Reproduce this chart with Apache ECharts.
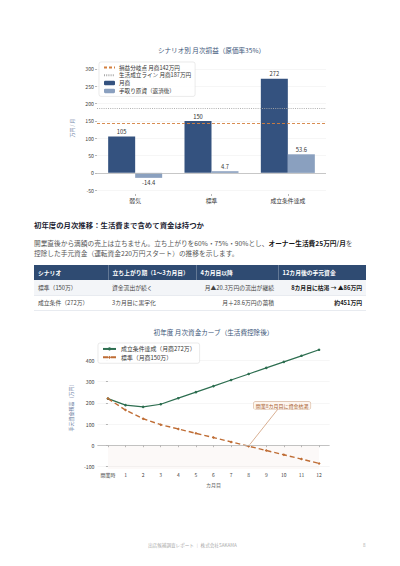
<!DOCTYPE html>
<html lang="ja">
<head>
<meta charset="UTF-8">
<meta name="viewport" content="width=device-width, initial-scale=1.0">
<title>初年度の月次推移</title>
<script src="https://cdn.jsdelivr.net/npm/echarts@6/dist/echarts.min.js"></script>
<style>
    html, body { margin: 0; padding: 0; background: #fff; }
    body { width: 400px; height: 566px; position: relative; overflow: hidden;
           font-family: "Noto Sans CJK JP", "Noto Sans", sans-serif; color: #444; }
    #bar   { position: absolute; left: 60px; top: 36px;  width: 303px; height: 172px; }
    #curve { position: absolute; left: 60px; top: 318px; width: 307px; height: 174px; }
    h2 { position: absolute; left: 34px; top: 219px; margin: 0; font-size: 7.4px; line-height: 12px;
         font-weight: bold; color: #1d2433; }
    p.lead { position: absolute; left: 34px; top: 238px; width: 332px; margin: 0;
             font-size: 6.7px; line-height: 10px; color: #555; }
    p.lead b { color: #1a1a1a; }
    table { position: absolute; left: 34px; top: 265px; width: 332px; border-collapse: collapse;
            font-size: 5.8px; table-layout: fixed; }
    th { background: #2f4b72; color: #fff; text-align: left; font-weight: 600; height: 15px;
         padding: 0 4px; border-right: 1px solid rgba(255,255,255,0.25); }
    th:last-child { border-right: none; }
    td { height: 14.5px; padding: 0 4px; color: #444; border-bottom: 1px solid #e8ebf0; }
    tr.alt td { background: #f3f5f8; }
    td.r { text-align: right; }
    td b { color: #1a1a1a; }
    .foot { position: absolute; top: 542px; font-size: 4.6px; color: #aaa; }
</style>
</head>
<body>

<div id="bar"></div>

<h2>初年度の月次推移：生活費まで含めて資金は持つか</h2>
<p class="lead">開業直後から満額の売上は立ちません。立ち上がりを60%・75%・90%とし、<b>オーナー生活費25万円/月</b>を<br>控除した手元資金（運転資金220万円スタート）の推移を示します。</p>

<table>
    <colgroup><col style="width:74px"><col style="width:88px"><col style="width:82px"><col style="width:88px"></colgroup>
    <tr><th>シナリオ</th><th>立ち上がり期（1〜3カ月目）</th><th>4カ月目以降</th><th>12カ月後の手元資金</th></tr>
    <tr class="alt"><td>標準（150万）</td><td>資金流出が続く</td><td class="r">月▲20.3万円の流出が継続</td><td class="r"><b>8カ月目に枯渇 → ▲86万円</b></td></tr>
    <tr><td>成立条件（272万）</td><td>3カ月目に黒字化</td><td class="r">月＋28.6万円の蓄積</td><td class="r"><b>約451万円</b></td></tr>
</table>

<div id="curve"></div>

<div class="foot" style="left:148px">出店候補調査レポート ｜ 株式会社SAKAMA</div>
<div class="foot" style="left:363px">8</div>

<script>
    // シナリオ別 月次損益
    var scenarios = ['弱気', '標準', '成立条件達成'];
    var monthlySales = [105, 150, 272];
    var netCash = [-14.4, 4.7, 53.6];
    var breakEven = 142;
    var livingLine = 187;
    var barTicks = [-50, 0, 50, 100, 150, 200, 250, 300];

    // 初年度 月次資金カーブ
    var monthLabels = ['開業時', '1', '2', '3', '4', '5', '6', '7', '8', '9', '10', '11', '12'];
    var cashSuccess = [220, 189, 181, 193.4, 222, 250.6, 279.2, 307.8, 336.4, 365, 393.6, 422.2, 450.8];
    var cashStandard = [220, 166, 125, 96.7, 76.4, 56.1, 35.8, 15.5, -4.8, -25.1, -45.4, -65.7, -86];
    var curveTicks = [-100, 0, 100, 200, 300, 400];
    var dryMonth = 8;

    var FONT = '"Noto Sans CJK JP", sans-serif';
    var navy = '#34527f', slate = '#8aa0bf', orange = '#d4803f', green = '#2d6e50', brown = '#bf6d35';
    var noMarker = {color: 'transparent', borderColor: 'transparent', borderWidth: 0};

    var bar = echarts.init(document.getElementById('bar'), null, {renderer: 'svg'});
    bar.setOption({
        textStyle: {fontFamily: FONT},
        title: {
            text: 'シナリオ別 月次損益（原価率35%）', left: 'center', top: 6,
            textStyle: {fontSize: 6.6, fontWeight: 'normal', color: '#3b5578', fontFamily: FONT}
        },
        legend: {
            orient: 'vertical', left: 39, top: 26,
            data: [
                {name: '損益分岐点 月商142万円', itemStyle: noMarker},
                {name: '生活成立ライン 月商187万円', itemStyle: noMarker},
                '月商', '手取り原資（返済後）'
            ],
            itemWidth: 11, itemHeight: 4.5, itemGap: 1.8, padding: [2.5, 4],
            backgroundColor: 'rgba(255,255,255,0.9)', borderColor: '#dcdcdc', borderWidth: 0.6, borderRadius: 2,
            textStyle: {fontSize: 5.6, lineHeight: 6, color: '#333', padding: [0, 0, 0, -1]}
        },
        grid: {left: 37, right: 37, top: 26, height: 132},
        xAxis: {
            type: 'category', data: scenarios,
            axisLine: {show: false, onZero: false},
            axisTick: {show: true, alignWithLabel: true, length: 2, lineStyle: {color: '#888', width: 0.6}},
            axisLabel: {fontSize: 5.8, color: '#333', margin: 4}
        },
        yAxis: {
            type: 'value', min: -61, max: 320,
            name: '万円 / 月', nameLocation: 'middle', nameGap: 19,
            nameTextStyle: {fontSize: 5, color: '#6a7aa0'},
            axisLine: {show: false},
            axisTick: {show: true, length: 2, customValues: barTicks, lineStyle: {color: '#888', width: 0.6}},
            axisLabel: {fontSize: 5.2, color: '#444', margin: 3, customValues: barTicks},
            splitLine: {show: true, lineStyle: {color: '#f0f0f0', width: 0.6}}
        },
        series: [
            {
                name: '損益分岐点 月商142万円', type: 'line', data: [], symbol: 'none',
                lineStyle: {color: orange, type: [3, 2], width: 0.9}, itemStyle: {color: orange},
                markLine: {silent: true, symbol: 'none', label: {show: false},
                    lineStyle: {color: orange, type: [3, 2], width: 0.9}, data: [{yAxis: breakEven}]}
            },
            {
                name: '生活成立ライン 月商187万円', type: 'line', data: [], symbol: 'none',
                lineStyle: {color: '#a8a8a8', type: [1, 1.2], width: 0.9}, itemStyle: {color: '#a8a8a8'},
                markLine: {silent: true, symbol: 'none', label: {show: false},
                    lineStyle: {color: '#a8a8a8', type: [1, 1.2], width: 0.9}, data: [{yAxis: livingLine}]}
            },
            {
                name: '月商', type: 'bar', data: monthlySales, barWidth: 27, barGap: '0%',
                itemStyle: {color: navy},
                label: {show: true, position: 'top', fontSize: 5.8, color: '#333', distance: 2},
                markLine: {silent: true, symbol: 'none', label: {show: false},
                    lineStyle: {color: '#bbb', type: 'solid', width: 0.8}, data: [{yAxis: 0}]}
            },
            {
                name: '手取り原資（返済後）', type: 'bar', barWidth: 27,
                data: netCash.map(function (v) {
                    return {value: v, label: {position: v < 0 ? 'bottom' : 'top'}};
                }),
                itemStyle: {color: slate},
                label: {show: true, fontSize: 5.8, color: '#333', distance: 2}
            }
        ]
    });

    var curve = echarts.init(document.getElementById('curve'), null, {renderer: 'svg'});
    var monthIdx = monthLabels.map(function (m, i) { return i; });
    curve.setOption({
        textStyle: {fontFamily: FONT},
        title: {
            text: '初年度 月次資金カーブ（生活費控除後）', left: 'center', top: 6,
            textStyle: {fontSize: 6.6, fontWeight: 'normal', color: '#3b5578', fontFamily: FONT}
        },
        legend: {
            orient: 'vertical', left: 38, top: 25,
            itemWidth: 13, itemHeight: 4, itemGap: 2.5, padding: [3, 4],
            backgroundColor: 'rgba(255,255,255,0.9)', borderColor: '#dcdcdc', borderWidth: 0.6, borderRadius: 2,
            textStyle: {fontSize: 5.9, color: '#333'}
        },
        grid: {left: 37.4, right: 37.4, top: 26, height: 126},
        xAxis: {
            type: 'value', min: -0.6, max: 12.6,
            name: 'カ月目', nameLocation: 'middle', nameGap: 12,
            nameTextStyle: {fontSize: 5, color: '#666'},
            axisLine: {show: false},
            axisTick: {show: true, length: 2, customValues: monthIdx, lineStyle: {color: '#888', width: 0.6}},
            axisLabel: {fontSize: 5, color: '#444', margin: 3, customValues: monthIdx,
                formatter: function (v) { return monthLabels[v]; }},
            splitLine: {show: false}
        },
        yAxis: {
            type: 'value', min: -113, max: 478,
            name: '手元資金残高（万円）', nameLocation: 'middle', nameGap: 22,
            nameTextStyle: {fontSize: 5, color: '#6a7aa0'},
            axisLine: {show: false},
            axisTick: {show: true, length: 2, customValues: curveTicks, lineStyle: {color: '#888', width: 0.6}},
            axisLabel: {fontSize: 5.2, color: '#444', margin: 3, customValues: curveTicks},
            splitLine: {show: true, lineStyle: {color: '#f0f0f0', width: 0.6}}
        },
        series: [
            {
                name: '成立条件達成（月商272万）', type: 'line',
                data: cashSuccess.map(function (v, i) { return [i, v]; }),
                symbol: 'circle', symbolSize: 2.6,
                lineStyle: {color: green, width: 1.2}, itemStyle: {color: green},
                markArea: {silent: true, itemStyle: {color: 'rgba(214,170,150,0.07)'},
                    data: [[{xAxis: 0, yAxis: -113}, {xAxis: 12, yAxis: 0}]]},
                markLine: {silent: true, symbol: 'none', label: {show: false},
                    lineStyle: {color: '#b5b5b5', type: 'solid', width: 0.8}, data: [{yAxis: 0}]}
            },
            {
                name: '標準（月商150万）', type: 'line',
                data: cashStandard.map(function (v, i) { return [i, v]; }),
                symbol: 'diamond', symbolSize: 3,
                lineStyle: {color: brown, width: 1.4, type: [5, 3]}, itemStyle: {color: brown}
            }
        ]
    });

    // 資金枯渇の注記
    var boxPt = curve.convertToPixel({gridIndex: 0}, [9.9, 188]);
    var tipPt = curve.convertToPixel({gridIndex: 0}, [dryMonth, cashStandard[dryMonth]]);
    curve.setOption({
        graphic: [
            {type: 'line', silent: true, z: 20,
             shape: {x1: boxPt[0] - 4, y1: boxPt[1] + 3.5, x2: tipPt[0] + 1, y2: tipPt[1] - 1.5},
             style: {stroke: '#c07a4a', lineWidth: 0.6}},
            {type: 'text', silent: true, z: 21, x: boxPt[0], y: boxPt[1],
             style: {text: '開業8カ月目に資金枯渇', fontSize: 5, fill: '#a8602f', fontFamily: FONT,
                 align: 'center', verticalAlign: 'middle',
                 backgroundColor: '#fdf6f0', borderColor: '#d9b79d', borderWidth: 0.6,
                 borderRadius: 1.5, padding: [1, 2]}}
        ]
    });
</script>
</body>
</html>
